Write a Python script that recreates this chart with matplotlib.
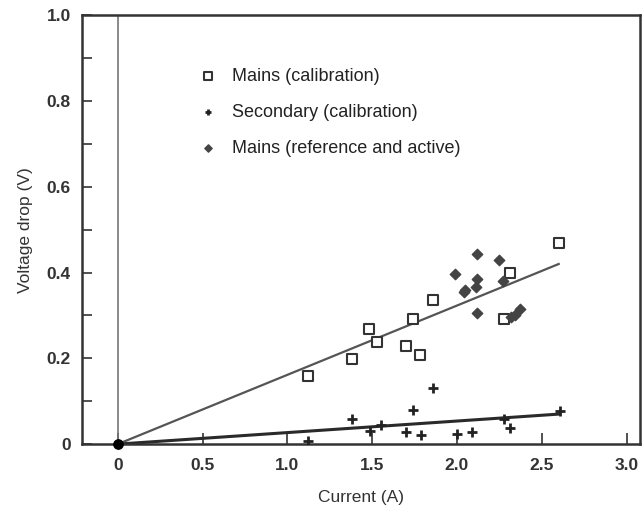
import numpy as np
import matplotlib.pyplot as plt
from matplotlib.ticker import MultipleLocator, FixedLocator

plt.rcParams['font.family'] = ['Liberation Sans', 'DejaVu Sans']

# Mains (calibration) - open squares
mains_cal_x = [1.12, 1.38, 1.48, 1.53, 1.70, 1.74, 1.78, 1.86, 2.28, 2.31, 2.60]
mains_cal_y = [0.159, 0.199, 0.268, 0.238, 0.228, 0.292, 0.207, 0.336, 0.292, 0.400, 0.469]

# Secondary (calibration) - plus marks
sec_x = [1.12, 1.38, 1.49, 1.55, 1.70, 1.74, 1.79, 1.86, 2.00, 2.09, 2.28, 2.31, 2.61]
sec_y = [0.007, 0.058, 0.030, 0.044, 0.028, 0.079, 0.021, 0.130, 0.023, 0.028, 0.058, 0.037, 0.077]

# Mains (reference and active) - filled diamonds
ref_x = [1.99, 2.04, 2.05, 2.11, 2.12, 2.12, 2.12, 2.25, 2.27, 2.32, 2.34, 2.37]
ref_y = [0.396, 0.354, 0.360, 0.366, 0.384, 0.443, 0.305, 0.430, 0.380, 0.296, 0.302, 0.314]

# common origin point
origin_x = [0.0]
origin_y = [0.0]

# fitted lines (through origin)
mains_fit_x = [0.0, 2.60]
mains_fit_y = [0.0, 0.420]
sec_fit_x = [0.0, 2.60]
sec_fit_y = [0.0, 0.070]

ink = '#333333'

fig = plt.figure(figsize=(6.44, 5.07), dpi=100)
ax = fig.add_axes([0.127, 0.124, 0.867, 0.846])

# lines
ax.plot(mains_fit_x, mains_fit_y, color='#555555', lw=1.6)
ax.plot(sec_fit_x, sec_fit_y, color='#2a2a2a', lw=2.2)
ax.plot([0, 0], [0, 1.0], color='#777777', lw=1.2)

# points
ax.scatter(mains_cal_x, mains_cal_y, marker='s', s=55, facecolors='white',
           edgecolors=ink, linewidths=1.5, zorder=3, label='Mains (calibration)')
ax.scatter(sec_x, sec_y, marker='+', s=50, color='#222222', linewidths=2.0,
           zorder=3, label='Secondary (calibration)')
ax.scatter(ref_x, ref_y, marker='D', s=28, color='#444444', zorder=4,
           label='Mains (reference and active)')
ax.scatter(origin_x, origin_y, marker='o', s=45, color='black', zorder=5,
           clip_on=False)

ax.set_xlim(-0.212, 3.08)
ax.set_ylim(0, 1.0)

ax.xaxis.set_major_locator(FixedLocator([0, 0.5, 1.0, 1.5, 2.0, 2.5, 3.0]))
ax.set_xticklabels(['0', '0.5', '1.0', '1.5', '2.0', '2.5', '3.0'])
ax.yaxis.set_major_locator(FixedLocator([0, 0.2, 0.4, 0.6, 0.8, 1.0]))
ax.set_yticklabels(['0', '0.2', '0.4', '0.6', '0.8', '1.0'])
ax.yaxis.set_minor_locator(MultipleLocator(0.1))

ax.tick_params(axis='both', which='both', direction='in', color=ink, width=1.2)
ax.tick_params(axis='x', length=8, labelsize=12.5, pad=10, labelcolor=ink)
ax.tick_params(axis='y', which='major', length=7, labelsize=12.5, pad=8, labelcolor=ink)
ax.tick_params(axis='y', which='minor', length=7)
for lab in ax.get_xticklabels() + ax.get_yticklabels():
    lab.set_fontweight('bold')

for s in ax.spines.values():
    s.set_color(ink)
    s.set_linewidth(1.8)

ax.set_xlabel('Current (A)', fontsize=12.5, color=ink, labelpad=12)
ax.set_ylabel('Voltage drop (V)', fontsize=12.5, color=ink, labelpad=10)

leg = ax.legend(loc='upper left', bbox_to_anchor=(0.165, 0.915), frameon=False,
                fontsize=13, labelspacing=1.05, handletextpad=0.3,
                markerscale=0.7, scatterpoints=1, labelcolor='#222222')

fig.savefig('out.png', dpi=100)
